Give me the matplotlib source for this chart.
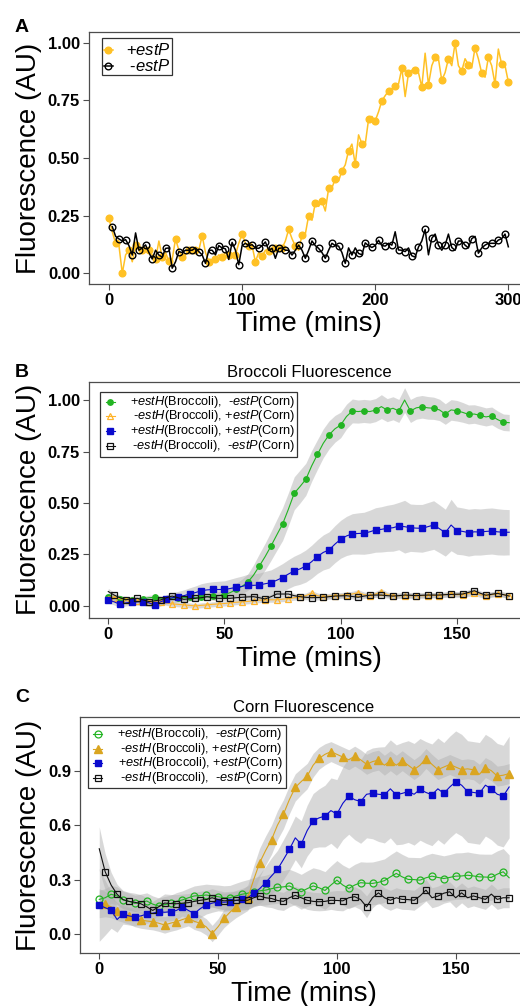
import numpy as np
import matplotlib
matplotlib.use('Agg')
import matplotlib.pyplot as plt
from matplotlib.lines import Line2D
from matplotlib.patches import Rectangle

plt.rcParams['font.family'] = ['Liberation Sans', 'DejaVu Sans']
plt.rcParams['mathtext.fontset'] = 'custom'
plt.rcParams['mathtext.rm'] = 'Liberation Sans'
plt.rcParams['mathtext.it'] = 'Liberation Sans:italic'
plt.rcParams['mathtext.bf'] = 'Liberation Sans:bold'

# ---------------- Panel A data (2.5 min sampling) ----------------
tA_plus = np.arange(0, 300.01, 2.5)
A_plus = [0.238, 0.18, 0.13, 0.12, 0.00, 0.08, 0.10, 0.05, 0.122, 0.10,
          0.10, 0.11, 0.10, 0.08, 0.06, 0.14, 0.07, 0.09, 0.053, 0.06,
          0.149, 0.10, 0.07, 0.08, 0.10, 0.09, 0.10, 0.10, 0.163, 0.09,
          0.05, 0.06, 0.06, 0.08, 0.07, 0.09, 0.08, 0.08, 0.08, 0.13,
          0.169, 0.13, 0.12, 0.12, 0.05, 0.09, 0.075, 0.10, 0.095, 0.11,
          0.108, 0.10, 0.108, 0.14, 0.19, 0.15, 0.118, 0.10, 0.165, 0.17,
          0.25, 0.23, 0.304, 0.29, 0.313, 0.27, 0.368, 0.37, 0.41, 0.40,
          0.445, 0.47, 0.532, 0.56, 0.472, 0.60, 0.562, 0.56, 0.667, 0.68,
          0.661, 0.70, 0.748, 0.77, 0.79, 0.80, 0.81, 0.82, 0.889, 0.766,
          0.867, 0.88, 0.883, 0.87, 0.807, 0.954, 0.817, 0.90, 0.936, 0.93,
          0.836, 0.87, 0.93, 0.90, 0.998, 0.90, 0.877, 0.93, 0.904, 0.89,
          0.978, 0.93, 0.868, 0.85, 0.936, 0.90, 0.82, 0.972, 0.906, 0.90,
          0.83]
tA_minus = np.arange(2.5, 300.01, 2.5)
A_minus = [0.202, 0.16, 0.149, 0.14, 0.146, 0.12, 0.079, 0.175, 0.10, 0.11,
           0.123, 0.09, 0.062, 0.10, 0.079, 0.07, 0.108, 0.11, 0.022, 0.05,
           0.094, 0.09, 0.10, 0.10, 0.10, 0.11, 0.094, 0.08, 0.043, 0.10,
           0.10, 0.08, 0.12, 0.11, 0.106, 0.06, 0.134, 0.10, 0.037, 0.12,
           0.13, 0.12, 0.124, 0.11, 0.108, 0.12, 0.136, 0.10, 0.108, 0.065,
           0.108, 0.11, 0.10, 0.10, 0.079, 0.10, 0.122, 0.10, 0.065, 0.10,
           0.14, 0.12, 0.108, 0.09, 0.065, 0.10, 0.13, 0.12, 0.118, 0.09,
           0.043, 0.11, 0.079, 0.11, 0.086, 0.08, 0.132, 0.12, 0.112, 0.12,
           0.143, 0.12, 0.118, 0.13, 0.122, 0.18, 0.101, 0.10, 0.094, 0.11,
           0.076, 0.07, 0.114, 0.14, 0.19, 0.08, 0.152, 0.17, 0.122, 0.10,
           0.122, 0.17, 0.112, 0.10, 0.14, 0.14, 0.122, 0.11, 0.15, 0.16,
           0.087, 0.11, 0.122, 0.13, 0.13, 0.13, 0.144, 0.15, 0.17, 0.115]

# ---------------- Panel B / C time grid ----------------
tBC = np.arange(0, 172.51, 2.5)

# Panel B: Broccoli fluorescence
B_green = [0.045, 0.040, 0.035, 0.035, 0.030, 0.033, 0.035, 0.040, 0.042, 0.035,
           0.035, 0.038, 0.040, 0.040, 0.042, 0.040, 0.045, 0.045, 0.048, 0.050,
           0.055, 0.065, 0.080, 0.095, 0.115, 0.150, 0.194, 0.240, 0.291, 0.345,
           0.398, 0.470, 0.547, 0.580, 0.615, 0.680, 0.736, 0.790, 0.831, 0.860,
           0.879, 0.920, 0.947, 0.944, 0.947, 0.944, 0.951, 0.968, 0.951, 0.960,
           0.947, 1.000, 0.947, 0.962, 0.967, 0.962, 0.960, 0.952, 0.932, 0.952,
           0.948, 0.940, 0.930, 0.932, 0.925, 0.918, 0.923, 0.905, 0.892, 0.890]
B_green_sd = [0.012, 0.012, 0.012, 0.012, 0.012, 0.012, 0.012, 0.012, 0.012, 0.012,
              0.012, 0.012, 0.012, 0.014, 0.014, 0.015, 0.016, 0.017, 0.018, 0.020,
              0.022, 0.025, 0.030, 0.035, 0.040, 0.050, 0.060, 0.065, 0.070, 0.075,
              0.080, 0.080, 0.080, 0.080, 0.078, 0.075, 0.072, 0.070, 0.068, 0.065,
              0.062, 0.060, 0.058, 0.056, 0.056, 0.056, 0.056, 0.058, 0.056, 0.056,
              0.056, 0.060, 0.056, 0.055, 0.055, 0.055, 0.054, 0.052, 0.050, 0.050,
              0.050, 0.048, 0.046, 0.045, 0.045, 0.044, 0.043, 0.042, 0.040, 0.040]
B_orange = [0.045, 0.040, 0.035, 0.030, 0.028, 0.025, 0.022, 0.020, 0.020, 0.020,
            0.015, 0.010, 0.008, 0.005, 0.003, 0.000, 0.003, 0.005, 0.008, 0.010,
            0.012, 0.015, 0.018, 0.020, 0.022, 0.025, 0.028, 0.030, 0.030, 0.030,
            0.033, 0.035, 0.040, 0.045, 0.050, 0.062, 0.050, 0.045, 0.048, 0.050,
            0.052, 0.055, 0.058, 0.065, 0.055, 0.050, 0.058, 0.070, 0.055, 0.050,
            0.050, 0.050, 0.050, 0.050, 0.050, 0.050, 0.052, 0.050, 0.055, 0.060,
            0.055, 0.055, 0.060, 0.065, 0.055, 0.050, 0.055, 0.060, 0.055, 0.050]
B_orange_sd = [0.015, 0.014, 0.013, 0.012, 0.012, 0.012, 0.012, 0.012, 0.012, 0.012,
               0.012, 0.012, 0.012, 0.012, 0.012, 0.012, 0.012, 0.012, 0.012, 0.012,
               0.012, 0.012, 0.012, 0.012, 0.012, 0.012, 0.012, 0.012, 0.012, 0.012,
               0.012, 0.012, 0.012, 0.012, 0.013, 0.014, 0.013, 0.013, 0.013, 0.013,
               0.013, 0.013, 0.013, 0.014, 0.013, 0.013, 0.013, 0.014, 0.013, 0.013,
               0.013, 0.013, 0.013, 0.013, 0.013, 0.013, 0.013, 0.013, 0.013, 0.014,
               0.013, 0.013, 0.014, 0.014, 0.013, 0.013, 0.013, 0.014, 0.013, 0.013]
B_blue = [0.029, 0.020, 0.008, 0.015, 0.018, 0.020, 0.021, 0.015, 0.005, 0.020,
          0.032, 0.040, 0.045, 0.050, 0.058, 0.065, 0.074, 0.078, 0.080, 0.080,
          0.080, 0.085, 0.090, 0.095, 0.102, 0.100, 0.102, 0.108, 0.113, 0.125,
          0.138, 0.155, 0.170, 0.180, 0.194, 0.215, 0.240, 0.260, 0.272, 0.300,
          0.324, 0.340, 0.350, 0.352, 0.353, 0.360, 0.369, 0.372, 0.377, 0.380,
          0.388, 0.385, 0.380, 0.378, 0.377, 0.385, 0.393, 0.375, 0.356, 0.393,
          0.366, 0.362, 0.356, 0.360, 0.359, 0.362, 0.364, 0.360, 0.358, 0.358]
B_blue_sd = [0.015, 0.015, 0.015, 0.015, 0.016, 0.016, 0.017, 0.018, 0.018, 0.020,
             0.022, 0.024, 0.026, 0.028, 0.030, 0.032, 0.034, 0.036, 0.038, 0.040,
             0.042, 0.045, 0.048, 0.050, 0.052, 0.055, 0.058, 0.060, 0.062, 0.065,
             0.068, 0.070, 0.072, 0.075, 0.078, 0.080, 0.082, 0.085, 0.088, 0.090,
             0.092, 0.095, 0.098, 0.100, 0.102, 0.105, 0.108, 0.110, 0.112, 0.114,
             0.115, 0.128, 0.115, 0.115, 0.116, 0.117, 0.118, 0.116, 0.114, 0.125,
             0.115, 0.114, 0.114, 0.113, 0.112, 0.112, 0.112, 0.112, 0.111, 0.110]
B_black = [0.070, 0.053, 0.040, 0.030, 0.035, 0.037, 0.030, 0.021, 0.025, 0.029,
           0.040, 0.048, 0.040, 0.032, 0.035, 0.037, 0.040, 0.045, 0.040, 0.037,
           0.037, 0.037, 0.040, 0.042, 0.044, 0.045, 0.040, 0.034, 0.045, 0.058,
           0.058, 0.058, 0.050, 0.045, 0.042, 0.040, 0.041, 0.042, 0.045, 0.048,
           0.049, 0.050, 0.046, 0.042, 0.048, 0.052, 0.053, 0.053, 0.050, 0.048,
           0.050, 0.053, 0.052, 0.050, 0.052, 0.053, 0.053, 0.053, 0.055, 0.056,
           0.057, 0.058, 0.066, 0.074, 0.062, 0.052, 0.057, 0.061, 0.055, 0.048]
B_black_sd = [0.015, 0.013, 0.012, 0.012, 0.012, 0.012, 0.012, 0.012, 0.012, 0.012,
              0.012, 0.012, 0.012, 0.012, 0.012, 0.012, 0.012, 0.012, 0.012, 0.012,
              0.012, 0.012, 0.012, 0.012, 0.012, 0.012, 0.012, 0.012, 0.012, 0.012,
              0.012, 0.012, 0.012, 0.012, 0.012, 0.012, 0.012, 0.012, 0.012, 0.012,
              0.012, 0.012, 0.012, 0.012, 0.012, 0.012, 0.012, 0.012, 0.012, 0.012,
              0.012, 0.012, 0.012, 0.012, 0.012, 0.012, 0.012, 0.012, 0.012, 0.012,
              0.012, 0.012, 0.013, 0.013, 0.012, 0.012, 0.012, 0.012, 0.012, 0.012]

# Panel C: Corn fluorescence
C_green = [0.191, 0.200, 0.219, 0.210, 0.188, 0.180, 0.169, 0.175, 0.182, 0.165,
           0.154, 0.162, 0.169, 0.180, 0.188, 0.200, 0.210, 0.212, 0.215, 0.210,
           0.206, 0.200, 0.200, 0.210, 0.219, 0.225, 0.233, 0.238, 0.242, 0.250,
           0.257, 0.260, 0.265, 0.250, 0.233, 0.250, 0.265, 0.255, 0.240, 0.270,
           0.297, 0.270, 0.251, 0.270, 0.283, 0.280, 0.279, 0.285, 0.294, 0.315,
           0.334, 0.315, 0.301, 0.300, 0.297, 0.310, 0.319, 0.312, 0.306, 0.312,
           0.319, 0.320, 0.324, 0.320, 0.315, 0.314, 0.312, 0.330, 0.343, 0.310]
C_green_sd = [0.050, 0.050, 0.050, 0.050, 0.048, 0.046, 0.045, 0.045, 0.045, 0.045,
              0.045, 0.045, 0.045, 0.048, 0.050, 0.052, 0.055, 0.058, 0.060, 0.062,
              0.064, 0.066, 0.068, 0.070, 0.072, 0.075, 0.078, 0.080, 0.082, 0.085,
              0.088, 0.090, 0.092, 0.094, 0.096, 0.098, 0.100, 0.102, 0.104, 0.106,
              0.108, 0.110, 0.112, 0.114, 0.115, 0.116, 0.118, 0.120, 0.120, 0.122,
              0.124, 0.124, 0.122, 0.122, 0.124, 0.125, 0.126, 0.126, 0.125, 0.126,
              0.128, 0.128, 0.128, 0.126, 0.126, 0.126, 0.128, 0.128, 0.128, 0.126]
C_orange = [0.170, 0.165, 0.150, 0.125, 0.110, 0.100, 0.085, 0.077, 0.072, 0.068,
            0.060, 0.050, 0.060, 0.068, 0.080, 0.090, 0.070, 0.060, 0.040, 0.003,
            0.040, 0.086, 0.120, 0.150, 0.175, 0.200, 0.300, 0.393, 0.460, 0.520,
            0.600, 0.660, 0.740, 0.808, 0.840, 0.870, 0.930, 0.968, 0.990, 1.005,
            0.990, 0.975, 0.960, 0.980, 0.960, 0.935, 0.950, 0.958, 0.930, 0.955,
            0.930, 0.955, 0.930, 0.906, 0.930, 0.967, 0.935, 0.906, 0.920, 0.934,
            0.920, 0.906, 0.910, 0.905, 0.880, 0.917, 0.900, 0.870, 0.875, 0.884]
C_orange_sd = [0.080, 0.070, 0.060, 0.050, 0.045, 0.045, 0.045, 0.045, 0.045, 0.045,
               0.045, 0.045, 0.045, 0.045, 0.045, 0.045, 0.045, 0.045, 0.045, 0.045,
               0.045, 0.050, 0.055, 0.060, 0.065, 0.070, 0.075, 0.080, 0.080, 0.080,
               0.080, 0.080, 0.078, 0.075, 0.072, 0.070, 0.065, 0.060, 0.058, 0.055,
               0.055, 0.055, 0.055, 0.055, 0.055, 0.055, 0.055, 0.055, 0.055, 0.055,
               0.055, 0.055, 0.055, 0.055, 0.055, 0.055, 0.055, 0.055, 0.055, 0.055,
               0.055, 0.055, 0.055, 0.055, 0.055, 0.055, 0.055, 0.055, 0.055, 0.055]
C_blue = [0.160, 0.145, 0.132, 0.080, 0.110, 0.100, 0.095, 0.100, 0.110, 0.115,
          0.123, 0.120, 0.123, 0.130, 0.150, 0.130, 0.113, 0.140, 0.160, 0.170,
          0.178, 0.175, 0.178, 0.185, 0.191, 0.200, 0.224, 0.250, 0.283, 0.320,
          0.356, 0.410, 0.466, 0.530, 0.495, 0.570, 0.624, 0.640, 0.650, 0.680,
          0.661, 0.720, 0.760, 0.740, 0.730, 0.770, 0.775, 0.770, 0.767, 0.800,
          0.767, 0.775, 0.785, 0.770, 0.797, 0.780, 0.767, 0.800, 0.775, 0.810,
          0.839, 0.820, 0.785, 0.780, 0.775, 0.820, 0.800, 0.770, 0.760, 0.810]
C_blue_sd = [0.200, 0.150, 0.100, 0.070, 0.055, 0.050, 0.050, 0.050, 0.050, 0.050,
             0.050, 0.050, 0.050, 0.050, 0.050, 0.050, 0.050, 0.050, 0.050, 0.050,
             0.050, 0.050, 0.050, 0.055, 0.060, 0.065, 0.070, 0.080, 0.090, 0.100,
             0.105, 0.110, 0.115, 0.120, 0.130, 0.140, 0.150, 0.160, 0.170, 0.180,
             0.190, 0.200, 0.210, 0.220, 0.230, 0.240, 0.250, 0.260, 0.265, 0.270,
             0.275, 0.280, 0.280, 0.280, 0.280, 0.280, 0.280, 0.280, 0.280, 0.280,
             0.280, 0.280, 0.280, 0.280, 0.280, 0.280, 0.280, 0.280, 0.280, 0.280]
C_black = [0.470, 0.343, 0.270, 0.219, 0.190, 0.180, 0.175, 0.167, 0.150, 0.130,
           0.150, 0.171, 0.168, 0.167, 0.170, 0.173, 0.180, 0.186, 0.190, 0.200,
           0.190, 0.183, 0.185, 0.186, 0.186, 0.186, 0.200, 0.210, 0.200, 0.196,
           0.185, 0.180, 0.200, 0.213, 0.200, 0.186, 0.180, 0.178, 0.180, 0.186,
           0.185, 0.183, 0.200, 0.206, 0.190, 0.150, 0.200, 0.227, 0.200, 0.186,
           0.200, 0.191, 0.190, 0.186, 0.210, 0.242, 0.200, 0.209, 0.225, 0.233,
           0.200, 0.227, 0.200, 0.210, 0.200, 0.191, 0.220, 0.191, 0.200, 0.200]
C_black_sd = [0.120, 0.100, 0.070, 0.055, 0.050, 0.050, 0.050, 0.050, 0.050, 0.050,
              0.050, 0.050, 0.050, 0.050, 0.050, 0.050, 0.050, 0.050, 0.050, 0.050,
              0.050, 0.050, 0.050, 0.050, 0.050, 0.050, 0.050, 0.050, 0.050, 0.050,
              0.050, 0.050, 0.050, 0.050, 0.050, 0.050, 0.050, 0.050, 0.050, 0.050,
              0.055, 0.055, 0.055, 0.055, 0.055, 0.060, 0.055, 0.055, 0.055, 0.055,
              0.055, 0.055, 0.055, 0.055, 0.055, 0.060, 0.055, 0.055, 0.055, 0.055,
              0.055, 0.055, 0.055, 0.055, 0.055, 0.055, 0.055, 0.055, 0.055, 0.055]

legendB = [r"+$\it{estH}$(Broccoli),  -$\it{estP}$(Corn)",
           r" -$\it{estH}$(Broccoli), +$\it{estP}$(Corn)",
           r"+$\it{estH}$(Broccoli), +$\it{estP}$(Corn)",
           r" -$\it{estH}$(Broccoli),  -$\it{estP}$(Corn)"]
legendA = [r"+$\it{estP}$", r" -$\it{estP}$"]

# ---------------- styling ----------------
W, H = 520, 1006
COL_Y = '#FFC125'
COL_G = '#22B422'
COL_B = '#0A0ACD'
COL_OB = '#FFB42A'
COL_OC = '#DAA520'
SPINE = '#4D4D4D'
RIB = '#B3B3B3'

fig = plt.figure(figsize=(W / 100, H / 100), dpi=100)

def fx(px):
    return px / W

def fy(py):
    return 1 - py / H

def make_ax(left, top, right, bottom, xlim, ylim):
    ax = fig.add_axes([fx(left), fy(bottom), (right - left) / W, (bottom - top) / H])
    ax.set_xlim(*xlim)
    ax.set_ylim(*ylim)
    for s in ax.spines.values():
        s.set_color(SPINE)
        s.set_linewidth(0.9)
    ax.tick_params(direction='out', length=4, width=0.8, color=SPINE,
                   labelsize=12, pad=2.5, labelcolor='black')
    return ax

def style_ticks(ax, xt, yt, yfmt):
    ax.set_xticks(xt)
    ax.set_xticklabels([str(v) for v in xt], fontweight='bold', fontsize=12)
    ax.set_yticks(yt)
    ax.set_yticklabels([yfmt % v for v in yt], fontweight='bold', fontsize=12)

def labels(ycenter, xcenter, xbase):
    fig.text(fx(29), fy(ycenter), 'Fluorescence (AU)', rotation=90, fontsize=20,
             ha='center', va='center')
    fig.text(fx(xcenter), fy(xbase), 'Time (mins)', fontsize=20, ha='center',
             va='baseline')

def manual_legend(box, rows, marker_x, text_x, entries, fontsize):
    x0, y0, x1, y1 = box
    fig.add_artist(Rectangle((fx(x0), fy(y1)), (x1 - x0) / W, (y1 - y0) / H,
                             transform=fig.transFigure, facecolor='white',
                             edgecolor='#333333', linewidth=0.9, zorder=10))
    for (label, kw, lw), ry in zip(entries, rows):
        ln = Line2D([fx(marker_x - 4.5), fx(marker_x + 4.5)], [fy(ry), fy(ry)],
                    transform=fig.transFigure, linewidth=lw, color=kw.get('color'),
                    zorder=11)
        fig.add_artist(ln)
        mk = Line2D([fx(marker_x)], [fy(ry)], transform=fig.transFigure,
                    linestyle='none', zorder=12, **kw)
        fig.add_artist(mk)
        fig.text(fx(text_x), fy(ry), label, fontsize=fontsize, ha='right',
                 va='center', zorder=12)

# ---------------- Panel A ----------------
axA = make_ax(89, 32.3, 528.3, 284.3, (-15, 315), (-0.0477, 1.0446))
axA.plot(tA_plus, A_plus, color=COL_Y, lw=1.1, marker='o', ms=4.8,
         markevery=(0, 2), mfc=COL_Y, mec=COL_Y, zorder=3)
axA.plot(tA_minus, A_minus, color='black', lw=1.1, marker='o', ms=4.8,
         markevery=(0, 2), mfc='none', mec='black', mew=1.0, zorder=4)
style_ticks(axA, [0, 100, 200, 300], [0.0, 0.25, 0.5, 0.75, 1.0], '%.2f')
labels(158, 309, 331)
fig.text(fx(15), fy(31.7), 'A', fontsize=14, fontweight='bold', ha='left', va='baseline')
manual_legend((101.7, 38.3, 172.3, 75), [50.3, 66.0], 108.3, 170.7,
              [(legendA[0], dict(marker='o', ms=4.8, color=COL_Y, mfc=COL_Y, mec=COL_Y), 1.1),
               (legendA[1], dict(marker='o', ms=4.8, color='black', mfc='none', mec='black', mew=1.0), 1.1)],
              12)

# ---------------- Panel B ----------------
axB = make_ax(89, 381.7, 528.5, 617.7, (-8.3, 180.8), (-0.057, 1.089))
seriesB = [(B_green, B_green_sd), (B_orange, B_orange_sd), (B_blue, B_blue_sd), (B_black, B_black_sd)]
for m, sd in seriesB:
    m = np.array(m); sd = np.array(sd)
    axB.fill_between(tBC, m - sd, m + sd, color=RIB, alpha=0.5, lw=0, zorder=1)
axB.plot(tBC, B_green, color=COL_G, lw=0.8, marker='o', ms=3.9, markevery=(0, 2),
         mfc=COL_G, mec=COL_G, zorder=3)
axB.plot(tBC, B_orange, color=COL_OB, lw=0.8, marker='^', ms=4.8, markevery=(1, 2),
         mfc='none', mec=COL_OB, mew=0.9, zorder=4)
axB.plot(tBC, B_blue, color=COL_B, lw=0.8, marker='s', ms=4.0, markevery=(0, 2),
         mfc=COL_B, mec=COL_B, zorder=5)
axB.plot(tBC, B_black, color='#111111', lw=0.8, marker='s', ms=4.4, markevery=(1, 2),
         mfc='none', mec='#111111', mew=0.9, zorder=6)
style_ticks(axB, [0, 50, 100, 150], [0.0, 0.25, 0.5, 0.75, 1.0], '%.2f')
labels(499.7, 309, 666)
fig.text(fx(309), fy(377.3), 'Broccoli Fluorescence', fontsize=12, ha='center', va='baseline')
fig.text(fx(15), fy(376.7), 'B', fontsize=14, fontweight='bold', ha='left', va='baseline')
manual_legend((100, 391.7, 297.3, 456.7), [401.7, 416.3, 431.0, 445.7], 110, 295,
              [(legendB[0], dict(marker='o', ms=3.9, color=COL_G, mfc=COL_G, mec=COL_G), 0.8),
               (legendB[1], dict(marker='^', ms=4.8, color=COL_OB, mfc='none', mec=COL_OB, mew=0.9), 0.8),
               (legendB[2], dict(marker='s', ms=4.0, color=COL_B, mfc=COL_B, mec=COL_B), 0.8),
               (legendB[3], dict(marker='s', ms=4.4, color='#111111', mfc='none', mec='#111111', mew=0.9), 0.8)],
              9.2)

# ---------------- Panel C ----------------
axC = make_ax(80, 717.3, 528.4, 953.3, (-8.1, 180.6), (-0.106, 1.194))
seriesC = [(C_green, C_green_sd), (C_orange, C_orange_sd), (C_blue, C_blue_sd), (C_black, C_black_sd)]
for m, sd in seriesC:
    m = np.array(m); sd = np.array(sd)
    axC.fill_between(tBC, m - sd, m + sd, color=RIB, alpha=0.5, lw=0, zorder=1)
axC.plot(tBC, C_green, color=COL_G, lw=0.8, marker='o', ms=5.0, markevery=(0, 2),
         mfc='none', mec=COL_G, mew=0.9, zorder=3)
axC.plot(tBC, C_orange, color=COL_OC, lw=0.8, marker='^', ms=5.5, markevery=(1, 2),
         mfc=COL_OC, mec=COL_OC, zorder=4)
axC.plot(tBC, C_blue, color=COL_B, lw=0.8, marker='s', ms=4.5, markevery=(0, 2),
         mfc=COL_B, mec=COL_B, zorder=5)
axC.plot(tBC, C_black, color='#111111', lw=0.8, marker='s', ms=5.0, markevery=(1, 2),
         mfc='none', mec='#111111', mew=0.9, zorder=6)
style_ticks(axC, [0, 50, 100, 150], [0.0, 0.3, 0.6, 0.9], '%.1f')
labels(835.3, 304, 1001)
fig.text(fx(304), fy(712.3), 'Corn Fluorescence', fontsize=12, ha='center', va='baseline')
fig.text(fx(15), fy(701.7), 'C', fontsize=14, fontweight='bold', ha='left', va='baseline')
manual_legend((88.3, 725, 286, 788.3), [734.0, 748.7, 763.3, 778.0], 97.7, 282.7,
              [(legendB[0], dict(marker='o', ms=5.0, color=COL_G, mfc='none', mec=COL_G, mew=0.9), 0.8),
               (legendB[1], dict(marker='^', ms=5.5, color=COL_OC, mfc=COL_OC, mec=COL_OC), 0.8),
               (legendB[2], dict(marker='s', ms=4.5, color=COL_B, mfc=COL_B, mec=COL_B), 0.8),
               (legendB[3], dict(marker='s', ms=5.0, color='#111111', mfc='none', mec='#111111', mew=0.9), 0.8)],
              9.2)

fig.savefig('out.png', dpi=100)
